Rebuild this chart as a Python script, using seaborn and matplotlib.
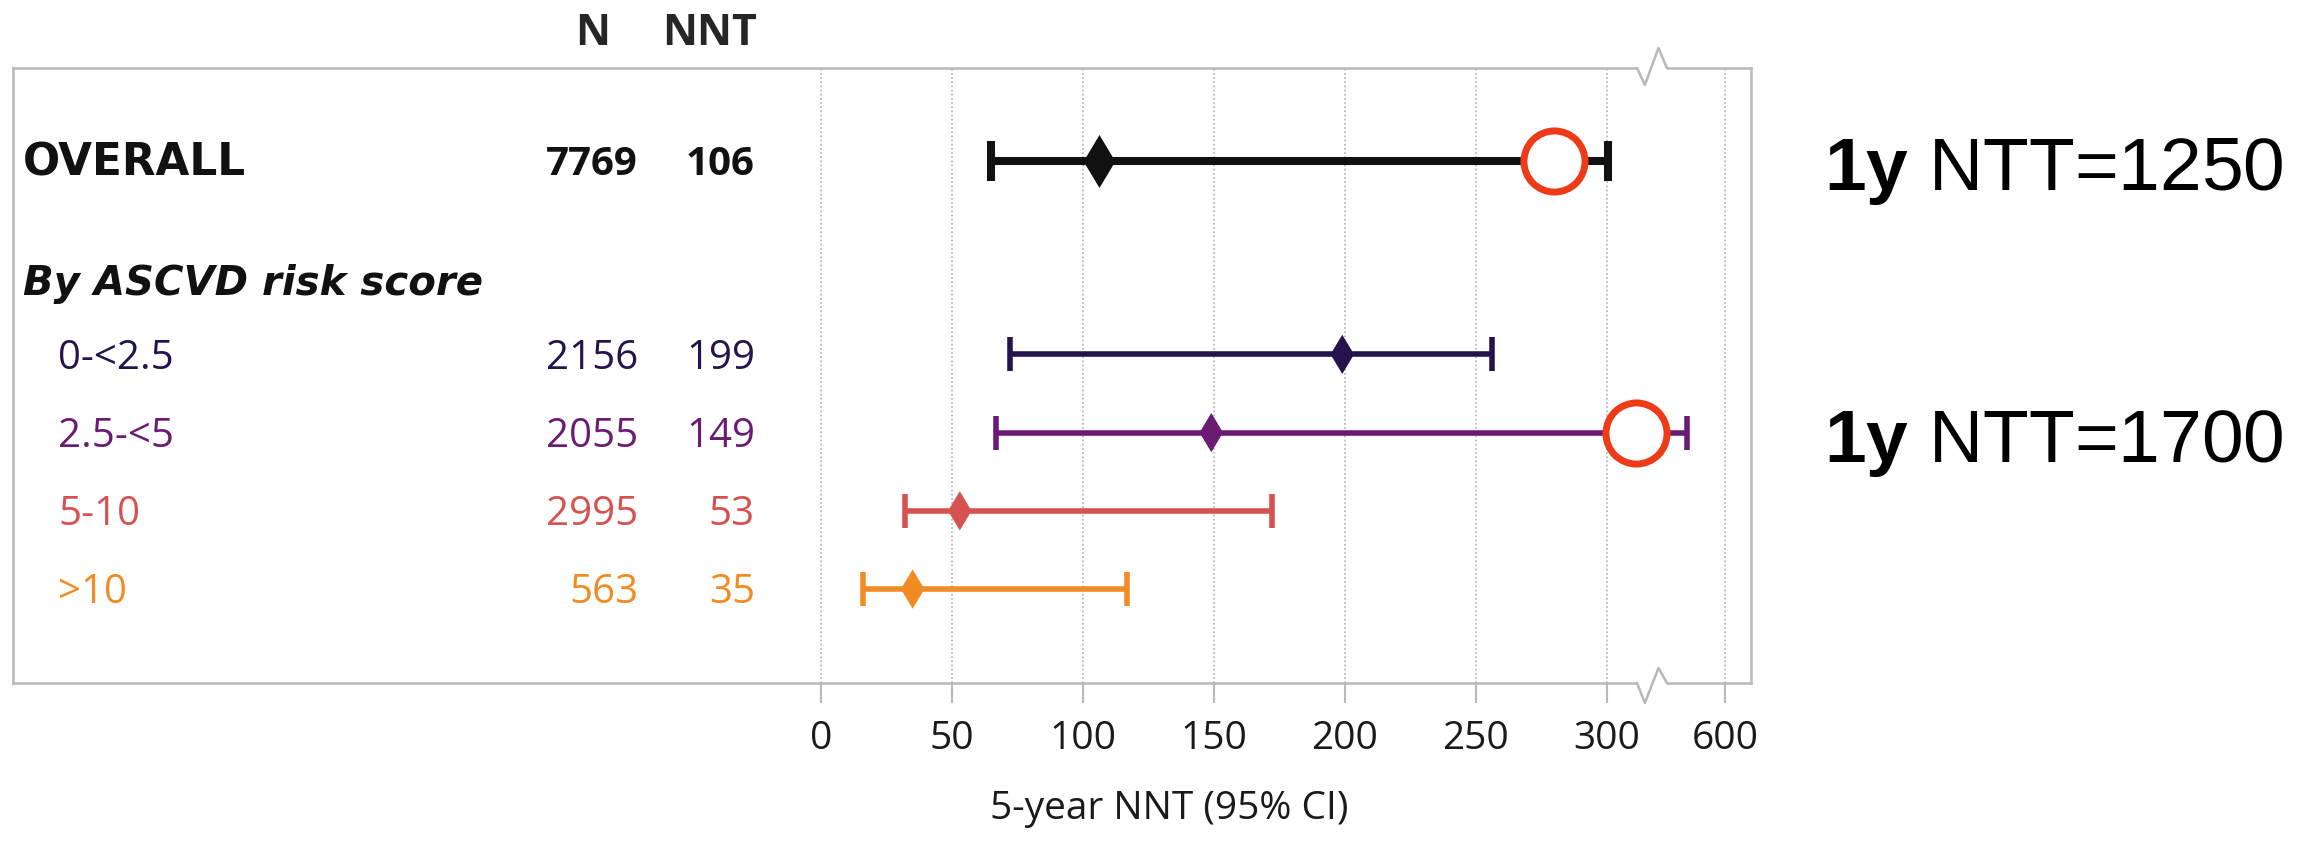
import numpy as np
import pandas as pd
import seaborn as sns
import matplotlib.pyplot as plt

# table rows
labels = ["OVERALL", "0-<2.5", "2.5-<5", "5-10", ">10"]
n_vals = [7769, 2156, 2055, 2995, 563]
nnt = [106, 199, 149, 53, 35]
ci_low = [65, 72, 67, 32, 16]
ci_high = [302, 256, 503, 172, 117]
colors = ["#111111", "#25134d", "#6b1b74", "#d65250", "#f28b22"]
row_y = [0, 2.47, 3.47, 4.47, 5.47]
subgroup_title = "By ASCVD risk score"

# red circles + 1-year notes
circle_rows = [0, 2]
circle_x = [280, 373]
one_year_nnt = [1250, 1700]

tick_vals = [0, 50, 100, 150, 200, 250, 300, 600]


# broken axis: everything above 300 is squeezed
def brk(v):
    v = np.asarray(v, dtype=float)
    return np.where(v <= 300, v, 300 + (v - 300) * 0.15)


sns.set_theme(style="white")
plt.rcParams['font.family'] = ['Open Sans', 'DejaVu Sans']
plt.rcParams['mathtext.fontset'] = 'custom'
plt.rcParams['mathtext.rm'] = 'Liberation Sans'
plt.rcParams['mathtext.bf'] = 'Liberation Sans:bold'

fig = plt.figure(figsize=(23.05, 8.41), dpi=100)
ax = fig.add_axes([0.00564, 0.1879, 0.754, 0.7313])

frame_col = "#b8b8b8"
for s in ax.spines.values():
    s.set_visible(True)
    s.set_color(frame_col)
    s.set_linewidth(1.8)

# CI lines
for i in range(len(labels)):
    big = i == 0
    lw = 5.8 if big else 4.0
    ax.errorbar(x=brk(nnt[i]), y=row_y[i],
                xerr=[[brk(nnt[i]) - brk(ci_low[i])], [brk(ci_high[i]) - brk(nnt[i])]],
                fmt='none', ecolor=colors[i], elinewidth=lw,
                capsize=14.4 if big else 12, capthick=lw, zorder=3)

# point estimates
df = pd.DataFrame({"label": labels, "x": brk(nnt), "y": row_y})
sns.scatterplot(data=df.iloc[[0]], x="x", y="y", marker="d", s=27 ** 2,
                color=colors[0], linewidth=0, ax=ax, zorder=4, legend=False)
sns.scatterplot(data=df.iloc[1:], x="x", y="y", hue="label", palette=colors[1:],
                marker="d", s=20 ** 2, linewidth=0, ax=ax, zorder=4, legend=False)

# red highlight circles
circ = pd.DataFrame({"x": brk(circle_x), "y": [row_y[r] for r in circle_rows]})
sns.scatterplot(data=circ, x="x", y="y", marker="o", s=44 ** 2, color="white",
                edgecolor="#ee3b17", linewidth=5, ax=ax, zorder=5, legend=False)

ax.set_xlim(-308.4, 355.0)
ax.set_ylim(6.67, -1.19)
ax.set_xlabel("")
ax.set_ylabel("")
ax.set_yticks([])
ax.set_xticks(brk(tick_vals))
ax.set_xticklabels([str(t) for t in tick_vals])
ax.tick_params(axis='x', bottom=True, length=14.4, width=1.5, color=frame_col,
               pad=12, labelsize=28, labelcolor="#1a1a1a")
ax.grid(axis='x', linestyle=(0, (1, 1.5)), color="#b0b0b0", linewidth=1.2)
ax.set_axisbelow(True)

# axis break marks on top and bottom frame
xt = ax.get_xaxis_transform()
for base, zig in [(0, [0, -20 / 615, 15 / 615, 0]), (1, [1, 1 - 17 / 615, 1 + 20 / 615, 1])]:
    ax.plot([311.5, 322.9], [base, base], transform=xt, color="white", lw=4,
            solid_capstyle='butt', clip_on=False, zorder=6)
    ax.plot([311.5, 314.5, 319.7, 322.9], zig, transform=xt, color=frame_col,
            lw=1.8, clip_on=False, zorder=7)

# table text
fs = 29
off = 0.184  # half cap height in row units, to put baselines
wide_bold = ['DejaVu Sans']
ax.text(-87.0, -1.67 + off, "N", ha="center", va="baseline", fontsize=31, fontweight="bold")
ax.text(-24.4, -1.67 + off, "NNT", ha="right", va="baseline", fontsize=31, fontweight="bold")
ax.text(-304.6, 1.53 + off, subgroup_title, ha="left", va="baseline", fontsize=29,
        fontweight="bold", fontstyle="italic", color="#111111", family=wide_bold)
for i in range(len(labels)):
    y = row_y[i] + off
    if i == 0:
        ax.text(-304.6, y, labels[i], ha="left", va="baseline", fontsize=31.5,
                fontweight="bold", color=colors[i], family=wide_bold)
        w = "bold"
    else:
        ax.text(-291.2, y, labels[i], ha="left", va="baseline", fontsize=fs, color=colors[i])
        w = "normal"
    ax.text(-69.8, y, str(n_vals[i]), ha="right", va="baseline", fontsize=fs, fontweight=w, color=colors[i])
    ax.text(-25.2, y, str(nnt[i]), ha="right", va="baseline", fontsize=fs, fontweight=w, color=colors[i])

fig.text(1169 / 2305, 1 - 809 / 841, "5-year NNT (95% CI)", ha="center", va="center",
         fontsize=28, color="#1a1a1a")

# 1-year notes on the right
for r, v in zip(circle_rows, one_year_nnt):
    ax.text(383, row_y[r] + 0.37, r"$\mathbf{1y}$ NTT=" + str(v), ha="left", va="baseline",
            fontsize=54, family="Liberation Sans", color="black", clip_on=False)

fig.savefig("out.png", dpi=100, facecolor="white")
